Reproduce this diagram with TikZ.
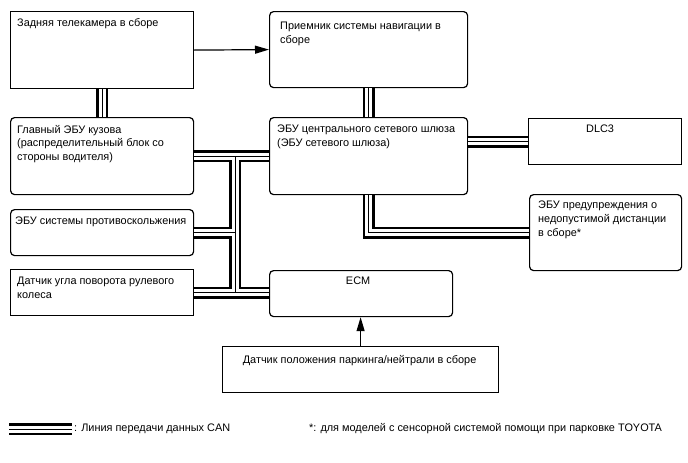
\documentclass[tikz,border=0pt]{standalone}
\usepackage{fontspec}
\setmainfont{Liberation Sans}
\usetikzlibrary{arrows.meta,calc}

\tikzset{
  unit/.style={draw,line width=1.2pt,rounded corners=4pt,anchor=north west,inner sep=0pt},
  flat/.style={unit,sharp corners},
  txt/.style={anchor=north west,align=left,inner sep=0pt,font=\fontsize{10.9}{13.6}\selectfont},
  canA/.style={line width=12pt},
  canB/.style={line width=7pt,white},
  canC/.style={line width=1pt},
  sig/.style={line width=1.2pt,-{Triangle[length=14pt,width=8pt]}}
}

\begin{document}
\begin{tikzpicture}[x=1pt,y=-1pt]
\useasboundingbox (0,0) rectangle (688,463);

\node[flat,minimum width=183,minimum height=77] (cam) at (10,11) {};
\node[unit,minimum width=198,minimum height=76] (nav) at (269,11) {};
\node[unit,minimum width=183,minimum height=77] (bcm) at (10,117) {};
\node[unit,minimum width=198,minimum height=77] (gw) at (269,117) {};
\node[flat,minimum width=153,minimum height=46] (dlc) at (528,118) {};
\node[unit,minimum width=152,minimum height=76] (pcs) at (529,194) {};
\node[unit,minimum width=183,minimum height=46] (vsc) at (10,209) {};
\node[flat,minimum width=183,minimum height=46] (sas) at (10,269) {};
\node[unit,minimum width=183,minimum height=46] (ecm) at (269,270) {};
\node[flat,minimum width=276,minimum height=46] (park) at (222,346) {};

\node[txt] (camtxt) at ($(cam.north west)+(7,7)$) {Задняя телекамера в сборе};
\node[txt] (navtxt) at ($(nav.north west)+(11,11)$) {Приемник системы навигации в\\сборе};
\node[txt] (bcmtxt) at ($(bcm.north west)+(7,8)$) {Главный ЭБУ кузова\\(распределительный блок со\\стороны водителя)};
\node[txt] (gwtxt) at ($(gw.north west)+(8,8)$) {ЭБУ центрального сетевого шлюза\\(ЭБУ сетевого шлюза)};
\node[txt,anchor=north] (dlctxt) at ($(dlc.north)+(-5,7)$) {DLC3};
\node[txt] (pcstxt) at ($(pcs.north west)+(9,7)$) {ЭБУ предупреждения о\\недопустимой дистанции\\в сборе*};
\node[txt] (vsctxt) at ($(vsc.north west)+(5,8)$) {ЭБУ системы противоскольжения};
\node[txt] (sastxt) at ($(sas.north west)+(7,8)$) {Датчик угла поворота рулевого\\колеса};
\node[txt,anchor=north] (ecmtxt) at ($(ecm.north)+(-3,7)$) {ECM};
\node[txt,anchor=north] (parktxt) at ($(park.north)+(-1,9)$) {Датчик положения паркинга/нейтрали в сборе};

\coordinate (tap) at (235,0);
\foreach \s in {canA,canB,canC}{
  \draw[\s] (cam.south) -- (bcm.north);
  \draw[\s] (nav.south) -- (gw.north);
  \draw[\s] (dlc.west -| gw.east) -- (dlc.west);
  \draw[\s] (gw.south) |- (pcs.west);
  \draw[\s] (bcm.east) -- (bcm.east -| gw.west);
  \draw[\s] (bcm.east -| tap) -- (sas.east -| tap);
  \draw[\s] (vsc.east) -- (vsc.east -| tap);
  \draw[\s] (sas.east) -- (sas.east -| ecm.west);
}

\draw[sig] (cam.east) -- (nav.west);
\draw[sig] (park.north) -- (park.north |- ecm.south);

\coordinate (lgA) at (9,429);
\coordinate (lgB) at (72,429);
\foreach \s in {canA,canB,canC} \draw[\s] (lgA) -- (lgB);
\node[txt,anchor=west] (lgtxt) at ($(lgB)+(2,0)$) {: Линия передачи данных CAN};
\node[txt,anchor=west] (note) at (309,429) {*: для моделей с сенсорной системой помощи при парковке TOYOTA};
\end{tikzpicture}
\end{document}
